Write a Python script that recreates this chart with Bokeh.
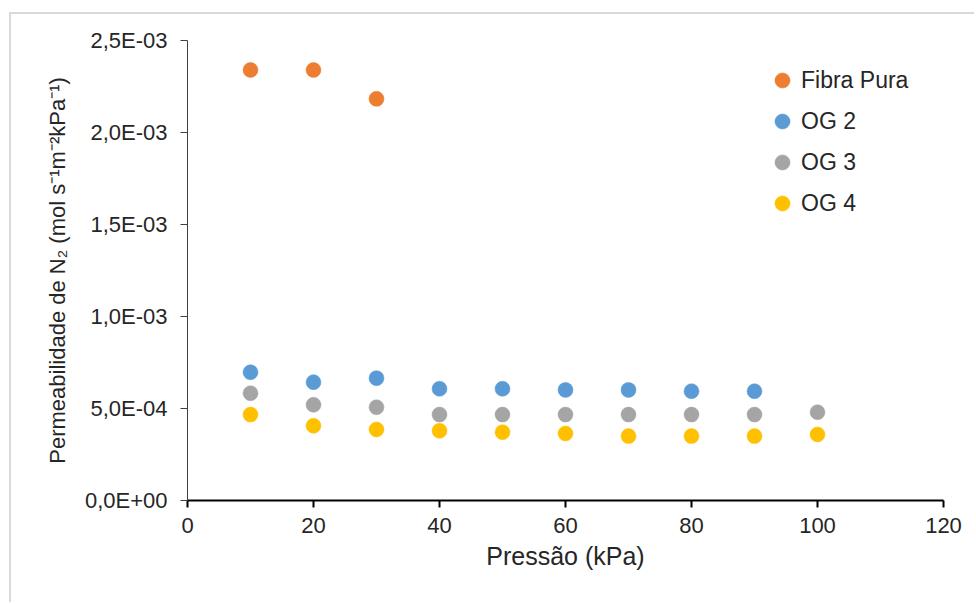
from bokeh.plotting import figure
from bokeh.models import (ColumnDataSource, Range1d, FixedTicker, CustomJSTickFormatter,
                          Legend, LegendItem)
from bokeh.embed import file_html
from bokeh.resources import INLINE

# ---- data ----
pressure = [10, 20, 30, 40, 50, 60, 70, 80, 90, 100]
fibra_pura_x = [10, 20, 30]
fibra_pura = [2.34e-3, 2.34e-3, 2.183e-3]
og2_x = [10, 20, 30, 40, 50, 60, 70, 80, 90]
og2 = [6.97e-4, 6.43e-4, 6.65e-4, 6.07e-4, 6.07e-4, 6.01e-4, 6.01e-4, 5.94e-4, 5.94e-4]
og3_x = pressure
og3 = [5.83e-4, 5.20e-4, 5.07e-4, 4.67e-4, 4.67e-4, 4.67e-4, 4.67e-4, 4.67e-4, 4.67e-4, 4.80e-4]
og4_x = pressure
og4 = [4.67e-4, 4.06e-4, 3.86e-4, 3.79e-4, 3.71e-4, 3.64e-4, 3.50e-4, 3.50e-4, 3.50e-4, 3.59e-4]

series_names = ["Fibra Pura", "OG 2", "OG 3", "OG 4"]
series_colors = ["#ED7D31", "#5B9BD5", "#A5A5A5", "#FFC000"]

x_ticks = [0, 20, 40, 60, 80, 100, 120]
y_ticks = [0.0, 5e-4, 1e-3, 1.5e-3, 2e-3, 2.5e-3]
y_tick_labels = ["0,0E+00", "5,0E-04", "1,0E-03", "1,5E-03", "2,0E-03", "2,5E-03"]

x_title = "Pressão (kPa)"
y_title = "Permeabilidade de N₂ (mol s⁻¹m⁻²kPa⁻¹)"

FONT = "Liberation Sans"
TXT = "#262626"

p = figure(width=965, height=590, output_backend="svg", toolbar_location=None,
           x_range=Range1d(0, 120), y_range=Range1d(0, 2.5e-3),
           min_border_left=176, min_border_top=26, min_border_right=33, min_border_bottom=104,
           styles={"margin-left": "9px", "margin-top": "12px",
                   "border-left": "2px solid #d9d9d9", "border-top": "2px solid #d9d9d9"})
p.outline_line_color = None
p.xgrid.visible = False
p.ygrid.visible = False
p.background_fill_color = "white"
p.border_fill_color = "white"

renderers = []
for xs, ys, c in [(fibra_pura_x, fibra_pura, series_colors[0]),
                  (og2_x, og2, series_colors[1]),
                  (og3_x, og3, series_colors[2]),
                  (og4_x, og4, series_colors[3])]:
    src = ColumnDataSource(dict(x=xs, y=ys))
    r = p.scatter("x", "y", source=src, size=15, fill_color=c, line_color=c, line_width=0.5)
    renderers.append(r)

# axes
xa = p.xaxis[0]
xa.ticker = FixedTicker(ticks=x_ticks)
xa.axis_line_color = "black"
xa.axis_line_width = 2
xa.major_tick_line_color = "black"
xa.major_tick_line_width = 2
xa.major_tick_out = 7
xa.major_tick_in = 0
xa.minor_tick_line_color = None
xa.major_label_text_font = FONT
xa.major_label_text_font_size = "22px"
xa.major_label_text_color = TXT
xa.major_label_standoff = 10
xa.axis_label = x_title
xa.axis_label_text_font = FONT
xa.axis_label_text_font_size = "25px"
xa.axis_label_text_font_style = "normal"
xa.axis_label_text_color = TXT
xa.axis_label_standoff = 6

ya = p.yaxis[0]
ya.ticker = FixedTicker(ticks=y_ticks)
ya.formatter = CustomJSTickFormatter(args=dict(vals=y_ticks, labels=y_tick_labels), code="""
    let best = 0, bd = Infinity;
    for (let i = 0; i < vals.length; i++) {
        const d = Math.abs(vals[i] - tick);
        if (d < bd) { bd = d; best = i; }
    }
    return labels[best];
""")
ya.axis_line_color = "#404040"
ya.axis_line_width = 1
ya.major_tick_line_color = "#404040"
ya.major_tick_out = 7
ya.major_tick_in = 0
ya.minor_tick_line_color = None
ya.major_label_text_font = FONT
ya.major_label_text_font_size = "22px"
ya.major_label_text_color = TXT
ya.major_label_standoff = 13
ya.axis_label = y_title
ya.axis_label_text_font = FONT
ya.axis_label_text_font_size = "22px"
ya.axis_label_text_font_style = "normal"
ya.axis_label_text_color = TXT
ya.axis_label_standoff = 12

legend = Legend(items=[LegendItem(label=n, renderers=[r]) for n, r in zip(series_names, renderers)],
                location=(576, 278), orientation="vertical",
                glyph_width=38, glyph_height=38, spacing=3, label_standoff=-5,
                padding=0, margin=0, border_line_color=None, background_fill_alpha=0,
                label_text_font=FONT, label_text_font_size="23px", label_text_color=TXT,
                label_height=38)
p.add_layout(legend, "center")

open("out.html", "w").write(file_html(p, INLINE))
